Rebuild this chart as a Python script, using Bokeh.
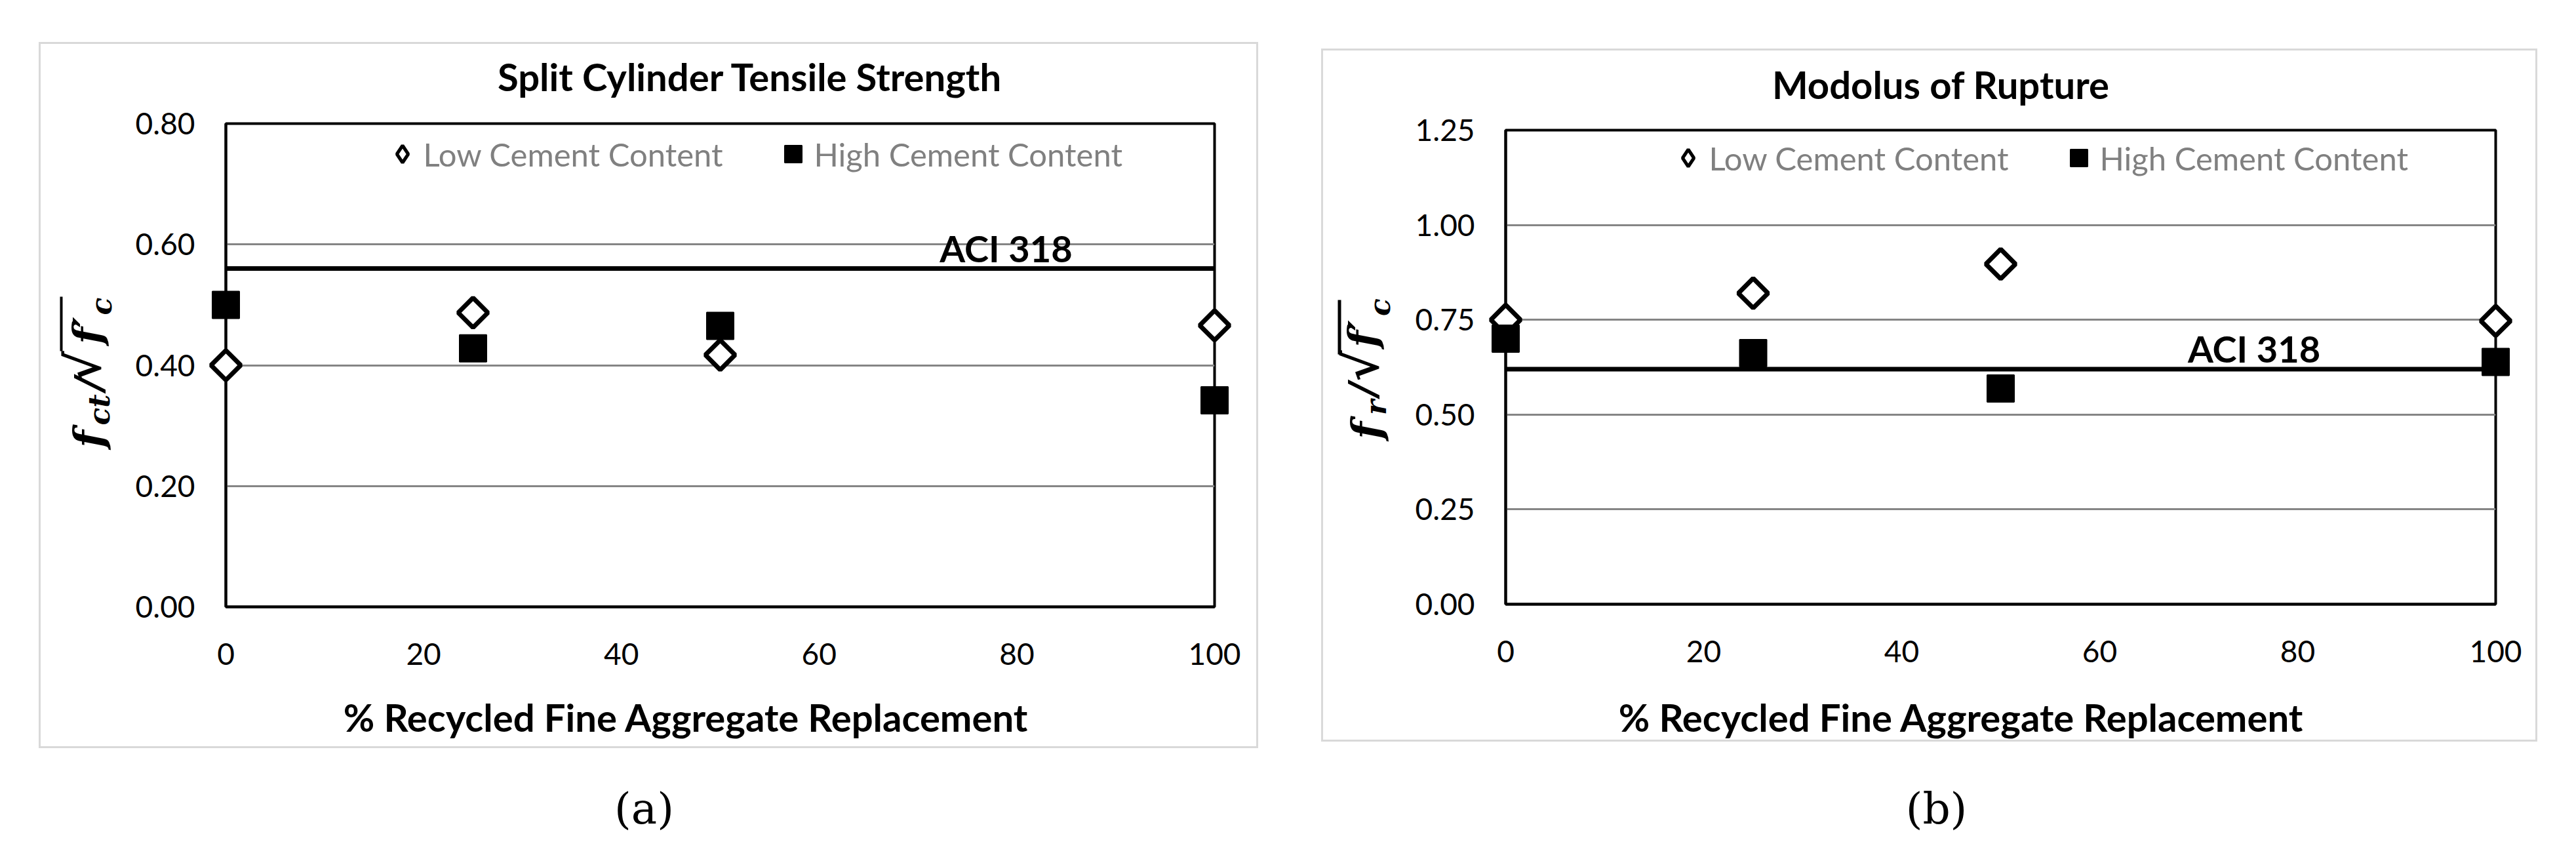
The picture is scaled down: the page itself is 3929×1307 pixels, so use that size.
import math
from bokeh.plotting import figure
from bokeh.layouts import row, column
from bokeh.models import (Span, Label, BoxAnnotation, Legend, LegendItem, FixedTicker,
                          NumeralTickFormatter, Range1d, ColumnDataSource, Spacer)
from bokeh.embed import file_html
from bokeh.resources import INLINE

# ---------------- data ----------------
replacement = [0, 25, 50, 100]
split_low = [0.40, 0.487, 0.417, 0.466]
split_high = [0.50, 0.428, 0.465, 0.342]
split_aci = 0.56
mor_low = [0.75, 0.82, 0.897, 0.747]
mor_high = [0.70, 0.662, 0.569, 0.639]
mor_aci = 0.62
x_ticks = [0, 20, 40, 60, 80, 100]
split_y_ticks = [0.0, 0.2, 0.4, 0.6, 0.8]
mor_y_ticks = [0.0, 0.25, 0.5, 0.75, 1.0, 1.25]
series_labels = ["Low Cement Content", "High Cement Content"]
titles = ["Split Cylinder Tensile Strength", "Modolus of Rupture"]
x_title = "% Recycled Fine Aggregate Replacement"
captions = ["(a)", "(b)"]
aci_text = "ACI 318"

SANS = "Lato"
SERIF = "DejaVu Serif"
FRAME = 3          # width of the light grey chart-area frame (px)


def decor_fig(w, h, yspan=None):
    d = figure(width=w, height=h, x_range=Range1d(0, w), y_range=Range1d(0, yspan or h),
               x_axis_type=None, y_axis_type=None, toolbar_location=None,
               output_backend="svg", title=None, min_border=0,
               outline_line_color=None)
    d.background_fill_color = "white"
    d.border_fill_color = "white"
    return d


def make_chart(low, high, aci, yticks, ymax, g):
    p = figure(width=g["cw"], height=g["mh"], x_range=Range1d(0, 100), y_range=Range1d(0, ymax),
               output_backend="svg", toolbar_location=None, title=None,
               min_border_left=g["mbl"], min_border_right=g["mbr"],
               min_border_top=g["mbt"], min_border_bottom=g["mbb"])
    p.background_fill_color = "white"
    p.border_fill_color = "white"
    p.outline_line_color = "black"
    p.outline_line_width = 4

    p.xaxis.ticker = FixedTicker(ticks=x_ticks, minor_ticks=[])
    p.yaxis.ticker = FixedTicker(ticks=yticks, minor_ticks=[])
    p.yaxis.formatter = NumeralTickFormatter(format="0.00")
    for ax in (p.xaxis[0], p.yaxis[0]):
        ax.axis_line_color = "black"
        ax.axis_line_width = 4
        ax.major_tick_line_color = None
        ax.minor_tick_line_color = None
        ax.major_tick_out = 0
        ax.major_tick_in = 0
        ax.minor_tick_out = 0
        ax.minor_tick_in = 0
        ax.major_label_text_font = SANS
        ax.major_label_text_font_size = "46px"
        ax.major_label_text_color = "black"
    p.xaxis.major_label_standoff = 55
    p.yaxis.major_label_standoff = 47
    p.xgrid.visible = False
    p.ygrid.grid_line_color = "#858585"
    p.ygrid.grid_line_width = 3

    # ACI 318 line and its label
    p.add_layout(Span(location=aci, dimension="width", line_color="black", line_width=7))
    p.add_layout(Label(x=g["aci_x"], y=aci, y_offset=31, text=aci_text, text_font=SANS,
                       text_font_style="bold", text_font_size="56px", text_color="black",
                       text_baseline="middle"))

    src = ColumnDataSource(dict(x=replacement, low=low, high=high))
    p.scatter("x", "low", source=src, marker="square", size=32, angle=math.pi / 4,
              fill_color="white", line_color="black", line_width=7, level="overlay")
    r_high = p.scatter("x", "high", source=src, marker="square", size=41,
                       fill_color="black", line_color="black", line_width=2, level="overlay")
    # legend swatch for the diamond series (hidden renderer, legend only)
    r_low_key = p.scatter("x", "low", source=src, marker="diamond", fill_color="white",
                          line_color="black", line_width=5, visible=False)

    legend = Legend(items=[LegendItem(label=series_labels[0], renderers=[r_low_key]),
                           LegendItem(label=series_labels[1], renderers=[r_high])],
                    orientation="horizontal", location=g["leg"],
                    glyph_width=65, glyph_height=75, label_standoff=0, label_width=460,
                    spacing=71, padding=0, margin=0, border_line_color=None,
                    background_fill_alpha=0, label_text_font=SANS,
                    label_text_font_size="49px", label_text_color="#808080")
    p.add_layout(legend)
    return p


def make_panel(title, low, high, aci, yticks, ymax, caption, sub, g):
    W = g["W"]
    Wi = W - 2 * FRAME
    top = decor_fig(Wi, g["th"])
    top.add_layout(Label(x=g["title"][0], y=g["title"][1], text=title, text_align="center",
                         text_baseline="middle", text_font=SANS, text_font_style="bold",
                         text_font_size="58px", text_color="black"))

    # y-axis label; its frame is aligned with the chart frame, so y is measured
    # in pixels up from the chart frame's bottom edge
    ylab = decor_fig(g["yw"], g["mh"], yspan=g["fh"])
    pieces = [("f", 62), (sub, 44), ("/", 58), ("\u221a", 72), ("f\u2032", 60), ("c", 44)]
    for (txt, fs), (px, py) in zip(pieces, g["ylab"]):
        ylab.add_layout(Label(x=px, y=py, text=txt, angle=math.pi / 2, text_align="center",
                              text_baseline="middle", text_font=SERIF,
                              text_font_style="bold italic", text_font_size=f"{fs}px",
                              text_color="black"))
    ol = g["over"]
    ylab.add_layout(BoxAnnotation(left=ol[0], right=ol[1], bottom=ol[2], top=ol[3],
                                  fill_color="black", fill_alpha=1, line_color=None))

    chart = make_chart(low, high, aci, yticks, ymax, g)

    bottom = decor_fig(Wi, g["bh"])
    bottom.add_layout(Label(x=g["xt"][0], y=g["xt"][1], text=x_title, text_align="center",
                            text_baseline="middle", text_font=SANS, text_font_style="bold",
                            text_font_size="58px", text_color="black"))

    inner = column(top, row(ylab, chart, styles={"background-color": "white"}), bottom,
                   styles={"background-color": "white"})
    inner_h = g["th"] + g["mh"] + g["bh"]
    # light grey frame: grey background showing through a 3 px gutter around the content
    framed = column(Spacer(width=W, height=FRAME),
                    row(Spacer(width=FRAME, height=inner_h), inner,
                        Spacer(width=FRAME, height=inner_h)),
                    Spacer(width=W, height=FRAME),
                    styles={"background-color": "#d9d9d9"})

    cap = decor_fig(W, 150)
    cap.add_layout(Label(x=g["cap"][0], y=g["cap"][1], text=caption, text_align="center",
                         text_baseline="middle", text_font=SERIF, text_font_size="66px",
                         text_color="black"))
    return column(Spacer(width=W, height=g["top_gap"]), framed, cap)


geo_a = dict(W=1860, th=88, mh=895, bh=88, yw=137, cw=1717, fh=737,
             mbl=145, mbr=64, mbt=33, mbb=125, top_gap=64,
             title=(1082, 39), xt=(984, 45), cap=(923, 58),
             aci_x=72.2, leg=(236.5, 653),
             ylab=[(73, 256), (89, 300.5), (73, 340), (65, 366.5), (71, 421.5), (92, 458.5)],
             over=(29, 33, 390, 473))
geo_b = dict(W=1855, th=88, mh=881, bh=82, yw=137, cw=1712, fh=723,
             mbl=135, mbr=61, mbt=33, mbb=125, top_gap=74,
             title=(942, 37), xt=(973, 35), cap=(938, 48),
             aci_x=68.9, leg=(245.5, 643),
             ylab=[(66, 265), (80, 300), (60, 327.5), (58, 363.5), (60, 412.5), (86, 453)],
             over=(22, 27, 381, 464))

panel_a = make_panel(titles[0], split_low, split_high, split_aci, split_y_ticks, 0.8,
                     captions[0], "ct", geo_a)
panel_b = make_panel(titles[1], mor_low, mor_high, mor_aci, mor_y_ticks, 1.25,
                     captions[1], "r", geo_b)

layout = row(Spacer(width=59, height=10), panel_a, Spacer(width=96, height=10), panel_b)
open("out.html", "w").write(file_html(layout, INLINE))
